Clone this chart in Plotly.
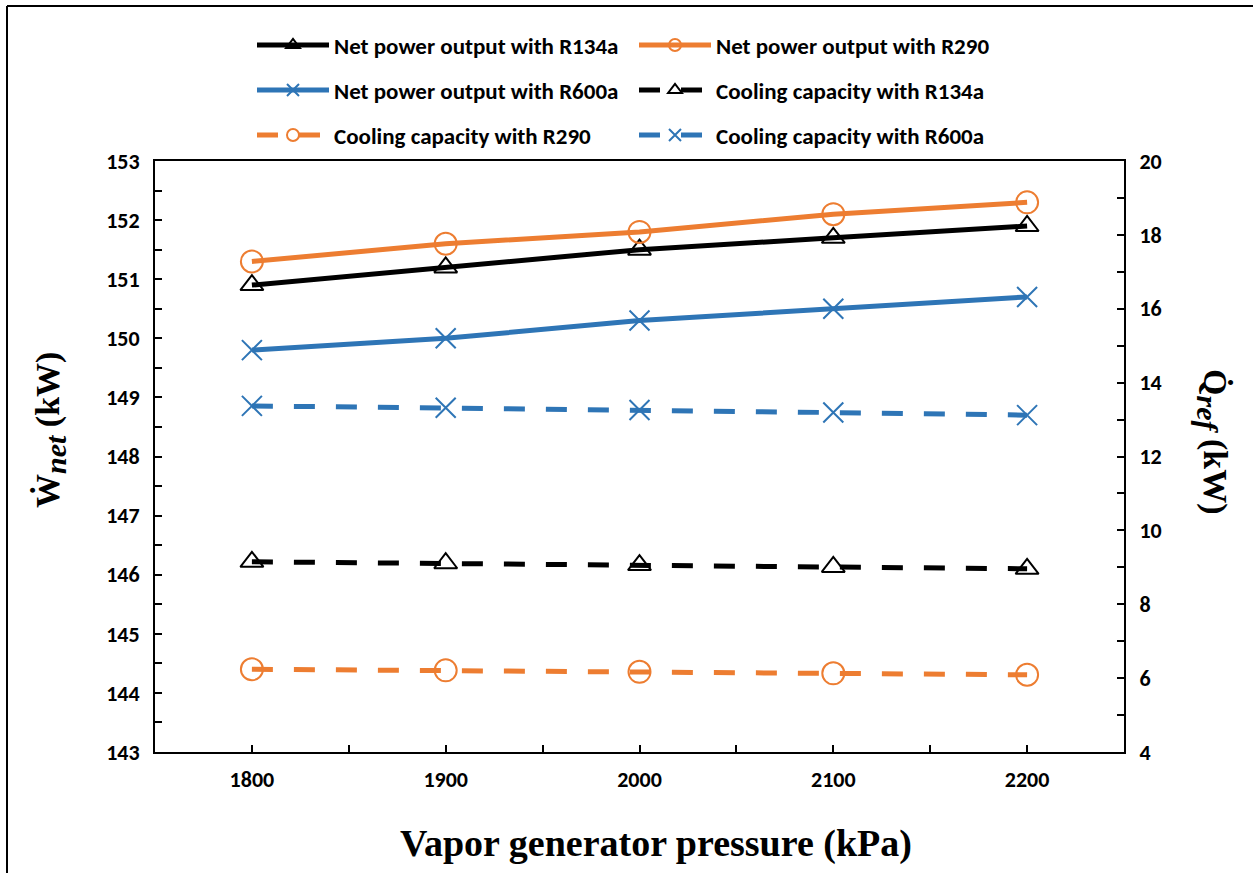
import plotly.graph_objects as go

# Vapor generator pressure (kPa)
pressure = [1800, 1900, 2000, 2100, 2200]
pressure_labels = ["1800", "1900", "2000", "2100", "2200"]

# Net power output (kW), left axis
net_r134a = [150.9, 151.2, 151.5, 151.7, 151.9]
net_r290 = [151.3, 151.6, 151.8, 152.1, 152.3]
net_r600a = [149.8, 150.0, 150.3, 150.5, 150.7]

# Cooling capacity (kW), right axis
cool_r134a = [9.15, 9.11, 9.06, 9.01, 8.96]
cool_r290 = [6.24, 6.21, 6.17, 6.13, 6.09]
cool_r600a = [13.37, 13.32, 13.26, 13.19, 13.12]

BLACK = "#000000"
ORANGE = "#ED7D31"
BLUE = "#2E75B6"
DASH = "21px,21px"

SANS = "Carlito, Lato, 'Liberation Sans', sans-serif"
SERIF = "'Liberation Serif', 'DejaVu Serif', serif"

W, H = 1253, 873
L, R, T, B = 155, 129, 161, 121
PW, PH = W - L - R, H - T - B


def px_x(px):
    return (px - L) / PW


def px_y(py):
    return (H - B - py) / PH


series = [
    ("Net power output with R134a", net_r134a, "y", BLACK, "solid", "triangle-up-open", 20, "legend"),
    ("Net power output with R290", net_r290, "y", ORANGE, "solid", "circle-open", 22, "legend"),
    ("Net power output with R600a", net_r600a, "y", BLUE, "solid", "x-thin-open", 20, "legend2"),
    ("Cooling capacity with R134a", cool_r134a, "y2", BLACK, DASH, "triangle-up-open", 20, "legend2"),
    ("Cooling capacity with R290", cool_r290, "y2", ORANGE, DASH, "circle-open", 22, "legend3"),
    ("Cooling capacity with R600a", cool_r600a, "y2", BLUE, DASH, "x-thin-open", 20, "legend3"),
]

fig = go.Figure()
for name, vals, yax, color, dash, sym, size, leg in series:
    fig.add_trace(go.Scatter(
        x=pressure, y=vals, yaxis=yax, name=name, mode="lines+markers",
        line=dict(color=color, width=5, dash=dash),
        marker=dict(symbol=sym, size=size, color=color,
                    line=dict(color=color, width=2)),
        legend=leg,
    ))

axis_common = dict(
    showline=True, linecolor=BLACK, linewidth=2,
    ticks="inside", ticklen=7, tickwidth=2, tickcolor=BLACK,
    showgrid=False, zeroline=False,
    tickfont=dict(family=SANS, size=22, color=BLACK, weight="bold"),
)

legend_common = dict(
    orientation="h", xanchor="left", yanchor="middle",
    bgcolor="rgba(0,0,0,0)", borderwidth=0,
    font=dict(family=SANS, size=23, color=BLACK, weight="bold"),
    itemwidth=72, itemsizing="constant", entrywidth=295,
    traceorder="normal",
)

fig.update_layout(
    width=W, height=H,
    margin=dict(l=L, r=R, t=T, b=B, autoexpand=False),
    paper_bgcolor="white", plot_bgcolor="white",
    showlegend=True,
    xaxis=dict(
        range=[1750, 2250], tickmode="array", tickvals=pressure,
        ticktext=pressure_labels, mirror=True, ticklabelstandoff=7,
        minor=dict(tickmode="linear", tick0=1750, dtick=50, ticks="inside",
                   ticklen=7, tickwidth=2, tickcolor=BLACK),
        **axis_common,
    ),
    yaxis=dict(
        range=[143, 153], dtick=1, ticklabelstandoff=9,
        minor=dict(dtick=0.5, ticks="inside", ticklen=7, tickwidth=2,
                   tickcolor=BLACK),
        **axis_common,
    ),
    yaxis2=dict(
        range=[4, 20], dtick=2, overlaying="y", side="right",
        ticklabelstandoff=9,
        minor=dict(dtick=1, ticks="inside", ticklen=7, tickwidth=2,
                   tickcolor=BLACK),
        **axis_common,
    ),
    legend=dict(x=px_x(252), y=px_y(45), **legend_common),
    legend2=dict(x=px_x(252), y=px_y(90), **legend_common),
    legend3=dict(x=px_x(252), y=px_y(135), **legend_common),
)

# Axis titles
fig.add_annotation(
    text="<b>Vapor generator pressure (kPa)</b>",
    xref="paper", yref="paper", x=px_x(656), y=px_y(843),
    showarrow=False, xanchor="center", yanchor="middle",
    font=dict(family=SERIF, size=38, color=BLACK),
)
fig.add_annotation(
    text="<b>Ẇ<sub><span style='font-size:30px'><i>net</i></span></sub> (kW)</b>",
    xref="paper", yref="paper", x=px_x(50), y=px_y(430),
    showarrow=False, xanchor="center", yanchor="middle", textangle=-90,
    font=dict(family=SERIF, size=34, color=BLACK),
)
fig.add_annotation(
    text="<b>Q\u0307<sub><span style='font-size:30px'><i>ref</i></span></sub> (kW)</b>",
    xref="paper", yref="paper", x=px_x(1213), y=px_y(442),
    showarrow=False, xanchor="center", yanchor="middle", textangle=90,
    font=dict(family=SERIF, size=34, color=BLACK),
)

# Outer frame (left and top edges)
fig.add_shape(type="line", xref="paper", yref="paper",
              x0=px_x(7), x1=px_x(7), y0=px_y(6), y1=px_y(880),
              line=dict(color=BLACK, width=2))
fig.add_shape(type="line", xref="paper", yref="paper",
              x0=px_x(7), x1=px_x(1260), y0=px_y(6), y1=px_y(6),
              line=dict(color=BLACK, width=2))

fig.write_html("out.html")
